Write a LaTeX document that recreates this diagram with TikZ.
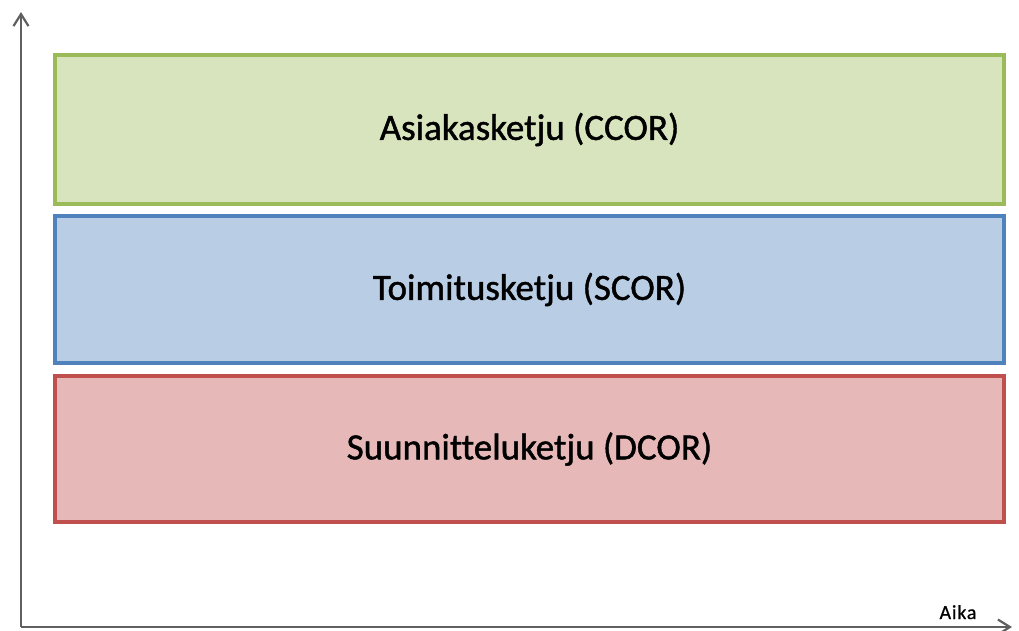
\documentclass[tikz,border=0pt]{standalone}
\usepackage{fontspec}
\setmainfont{Carlito}
\newfontfamily\bandfont[FakeBold=1.2,Ligatures=NoCommon]{Carlito}
\newfontfamily\axisfont[FakeBold=0.6,LetterSpace=4]{Carlito}
\usetikzlibrary{arrows.meta}

% Office-style palette
\definecolor{greenline}{HTML}{9BBB59}
\definecolor{greenfill}{HTML}{D7E4BD}
\definecolor{blueline}{HTML}{4F81BD}
\definecolor{bluefill}{HTML}{B9CDE5}
\definecolor{redline}{HTML}{C0504D}
\definecolor{redfill}{HTML}{E6B9B8}
\definecolor{axisgray}{HTML}{606060}

\tikzset{
  band/.style={draw, line width=3.6pt, minimum width=949pt, inner sep=0pt,
    font=\bandfont\fontsize{37}{44}\selectfont, text=black},
  axisline/.style={draw=axisgray, line width=2.4pt,
    -{Straight Barb[length=12pt,width=15pt,line width=2.2pt]}},
}

\begin{document}
\begin{tikzpicture}[x=1pt, y=-1pt]
  \useasboundingbox (0,0) rectangle (1019,630);

  % three chain bands
  \node[band, draw=greenline, fill=greenfill, minimum height=149pt]
    (ccor) at (529.5,129.5) {Asiakasketju (CCOR)};
  \node[band, draw=blueline, fill=bluefill, minimum height=147pt]
    (scor) at (529.5,289.5) {Toimitusketju (SCOR)};
  \node[band, draw=redline, fill=redfill, minimum height=146pt]
    (dcor) at (529.5,449) {Suunnitteluketju (DCOR)};

  % axes
  \coordinate (origin) at (21,627);
  \coordinate (ytip) at (21,12);
  \coordinate (xtip) at (1012,627);
  \draw[axisline] (origin) -- (ytip);
  \draw[axisline] (origin) -- (xtip);

  \node[font=\axisfont\fontsize{20}{24}\selectfont, anchor=base, inner sep=0pt]
    (aika) at (958,619) {Aika};
\end{tikzpicture}
\end{document}
